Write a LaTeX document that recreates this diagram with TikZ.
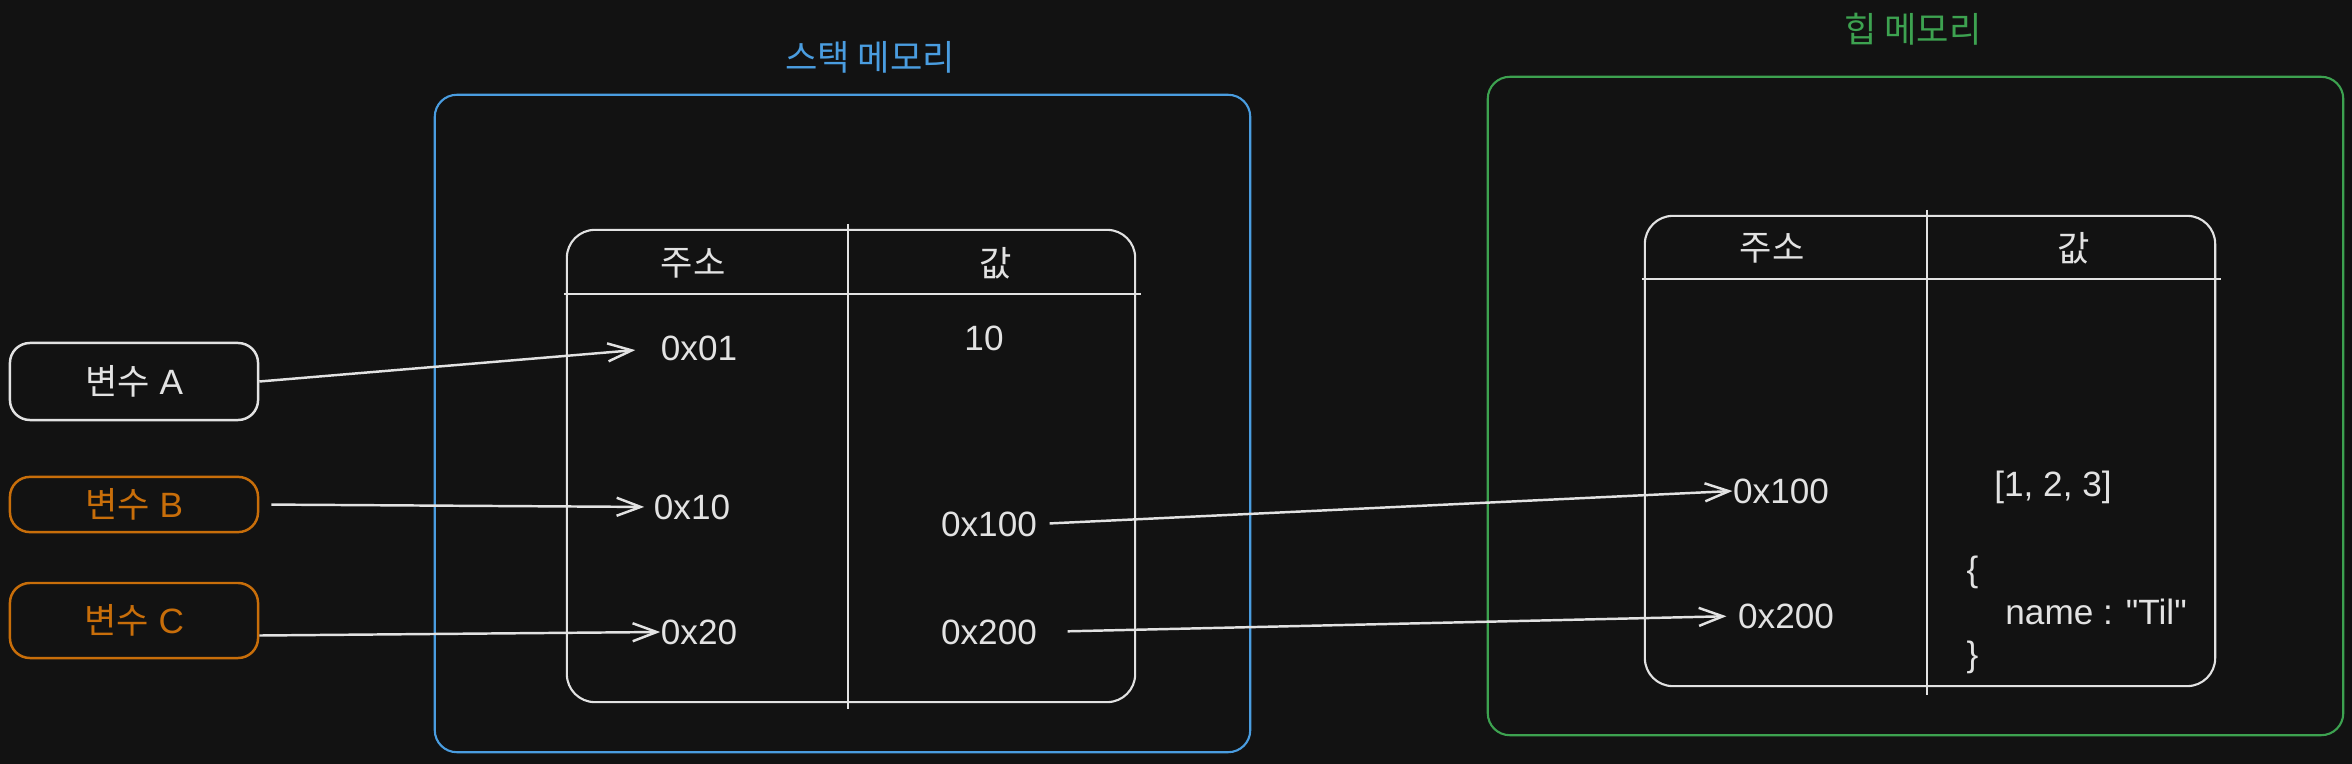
\documentclass[tikz,border=0pt]{standalone}
\usepackage{fontspec}
\newfontfamily\lat{Liberation Sans}
\newfontfamily\kr{Noto Sans CJK KR}
\usetikzlibrary{calc,arrows.meta}
\definecolor{bgc}{HTML}{121212}
\definecolor{stkblue}{HTML}{4A9DE0}
\definecolor{heapgreen}{HTML}{3DA250}
\definecolor{varorange}{HTML}{C86E0A}
\definecolor{fg}{HTML}{E2E2E2}

\begin{document}
\begin{tikzpicture}
[x=0.01cm, y=-0.01cm,
mem/.style={rectangle, rounded corners=2.2mm, line width=0.6pt},
tbl/.style={rectangle, rounded corners=2.8mm, draw=fg, line width=0.6pt},
var/.style={rectangle, rounded corners=2mm, line width=0.7pt, minimum width=2.48cm, font=\lat},
hd/.style={font=\kr, text=fg, inner sep=0pt},
val/.style={font=\lat, text=fg, inner sep=0pt},
ttl/.style={font=\kr, inner sep=0pt},
ln/.style={fg, line width=0.7pt},
>/.tip={Straight Barb[length=2.4mm, width=1.8mm]}]

	\fill[bgc] (0,0) rectangle (2352,764);
	\useasboundingbox (0,0) rectangle (2352,764);

	\node (stkttl) at (870,57) [ttl, text=stkblue] {스택 메모리};
	\node (heapttl) at (1913,29) [ttl, text=heapgreen] {힙 메모리};

	\node (stk) at (842.5,423.5) [mem, draw=stkblue, minimum width=8.15cm, minimum height=6.57cm] {};
	\node (heap) at (1915.5,406) [mem, draw=heapgreen, minimum width=8.55cm, minimum height=6.58cm] {};

	\node (stbl) at (851,466) [tbl, minimum width=5.68cm, minimum height=4.72cm] {};
	\node (htbl) at (1930,451) [tbl, minimum width=5.70cm, minimum height=4.70cm] {};

	% table rules
	\draw[ln] ($(stbl.north west)+(-2,65)$) -- ($(stbl.north east)+(5,65)$);
	\draw[ln] ($(stbl.north)+(-3,-5)$) -- ($(stbl.south)+(-3,6)$);
	\draw[ln] ($(htbl.north west)+(-2,64)$) -- ($(htbl.north east)+(5,64)$);
	\draw[ln] ($(htbl.north)+(-3,-5)$) -- ($(htbl.south)+(-3,8)$);

	\node (saddr) at (693,263) [hd] {주소};
	\node (sval) at (996,263) [hd] {값};
	\node (haddr) at (1772,248) [hd] {주소};
	\node (hval) at (2074,248) [hd] {값};

	\node (adA) at (699,348) [val] {0x01};
	\node (sv10) at (984,338) [val] {10};
	\node (adB) at (692,507) [val] {0x10};
	\node (sv100) at (989,524) [val] {0x100};
	\node (adC) at (699,632) [val] {0x20};
	\node (sv200) at (989,632) [val] {0x200};

	\node (ha100) at (1781,491) [val] {0x100};
	\node (ha200) at (1786,616) [val] {0x200};
	\node (hv1) at (2053,487) [val] {[1, 2, 3]};
	\node (hv2) at (1966,615) [val, anchor=west, align=left] {\{\\\hspace*{11pt}name : "Til"\\\}};

	\node (varA) at (134,381.5) [var, draw=fg, text=fg, minimum height=0.77cm] {{\kr 변수} A};
	\node (varB) at (134,504.5) [var, draw=varorange, text=varorange, minimum height=0.53cm] {{\kr 변수} B};
	\node (varC) at (134,620.5) [var, draw=varorange, text=varorange, minimum height=0.75cm] {{\kr 변수} C};

	\draw[->, ln, shorten >=2.5mm] (varA.east) -- (adA.west);
	\draw[->, ln, shorten <=1.2mm, shorten >=0.9mm] (varB.east) -- (adB.west);
	\draw[->, ln] ([yshift=-1.5mm]varC.east) -- (adC.west);
	\draw[->, ln, shorten <=1.2mm] (sv100.east) -- (ha100.west);
	\draw[->, ln, shorten <=3mm, shorten >=1.1mm] (sv200.east) -- (ha200.west);

\end{tikzpicture}
\end{document}
